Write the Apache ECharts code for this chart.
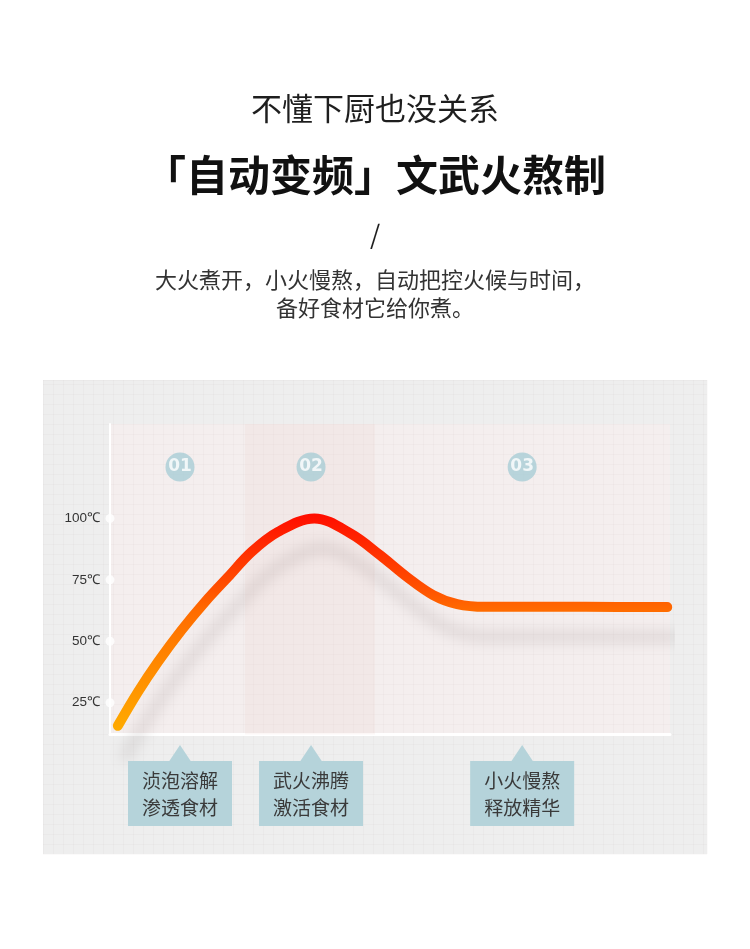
<!DOCTYPE html>
<html><head><meta charset="utf-8">
<script src="https://cdn.jsdelivr.net/npm/echarts@6/dist/echarts.min.js"></script>
<style>html,body{margin:0;padding:0;background:#fff}#c{width:750px;height:949px}</style>
</head><body><div id="c"></div>
<script>
// ---- data ----
const curveX = [1.4, 5.0, 8.6, 12.8, 17.0, 21.1, 25.3, 30.0, 36.5, 43.0, 48.2, 53.0, 57.7, 62.0, 67.0, 75.0, 85.0, 99.5];
const curveY = [15.6, 29.4, 41.7, 54.6, 66.1, 76.2, 86.4, 94.5, 100, 93.8, 85.1, 76.2, 68.8, 65.1, 64.0, 64.0, 64.0, 63.9];
const tickValues = [25, 50, 75, 100];
const stageX = [12.5, 35.9, 73.6];
const stageY = [120.9, 120.9, 120.9];
const stageNums = ['01', '02', '03'];
const stageText = [['浈泡溶解', '渗透食材'], ['武火沸腾', '激活食材'], ['小火慢熬', '释放精华']];
const boilBand = [24.1, 47.3];
const titleLines = ['不懂下厨也没关系', '「自动变频」文武火熬制', '/', '大火煮开，小火慢熬，自动把控火候与时间，', '备好食材它给你煮。'];

const CJK = '"Noto Sans CJK SC", "Noto Sans", sans-serif';
const chart = echarts.init(document.getElementById('c'), null, {renderer: 'canvas'});

const GRID = {left: 110, right: 80, top: 424, bottom: 214.5};

const option = {
  animation: false,
  backgroundColor: '#ffffff',
  grid: [
    Object.assign({show: true, backgroundColor: '#f4eeee', borderWidth: 0}, GRID),
    {left: 43, right: 43, top: 380, bottom: 95}
  ],
  xAxis: [
    {type: 'value', min: 0, max: 100, gridIndex: 0,
     axisLine: {show: true, onZero: false, lineStyle: {color: '#ffffff', width: 3}},
     axisTick: {show: false}, axisLabel: {show: false}, splitLine: {show: false}},
    {type: 'value', min: 0, max: 66.4, interval: 1, gridIndex: 1,
     axisLine: {show: false}, axisTick: {show: false}, axisLabel: {show: false},
     splitLine: {show: true, lineStyle: {color: 'rgba(150,110,110,0.035)', width: 1}}}
  ],
  yAxis: [
    {type: 'value', min: 12.07, max: 138.4, gridIndex: 0,
     axisLine: {show: true, lineStyle: {color: '#ffffff', width: 2}},
     axisTick: {show: false}, splitLine: {show: false},
     axisLabel: {customValues: tickValues, formatter: '{value}℃', color: '#333', fontSize: 13.5,
                 margin: 10, fontFamily: '"Liberation Sans", Arial, sans-serif'}},
    {type: 'value', min: 0, max: 47.4, interval: 1, gridIndex: 1,
     axisLine: {show: false}, axisTick: {show: false}, axisLabel: {show: false},
     splitLine: {show: true, lineStyle: {color: 'rgba(150,110,110,0.035)', width: 1}}}
  ],
  graphic: [],
  series: [
    {type: 'line', xAxisIndex: 1, yAxisIndex: 1, data: [], silent: true},
    {
      type: 'line', xAxisIndex: 0, yAxisIndex: 0, z: 5,
      data: curveX.map((x, i) => [x, curveY[i]]),
      smooth: 0.35, symbol: 'none', clip: false,
      lineStyle: {
        width: 10, cap: 'round', join: 'round',
        color: new echarts.graphic.LinearGradient(0, 0, 0, 1, [
          {offset: 0, color: '#ff0c00'},
          {offset: 0.35, color: '#ff5200'},
          {offset: 0.45, color: '#ff6c00'},
          {offset: 1, color: '#ffab00'}
        ]),
        shadowColor: 'rgba(60,40,40,0.13)', shadowBlur: 14, shadowOffsetX: 8, shadowOffsetY: 30
      },
      markArea: {
        silent: true,
        itemStyle: {color: 'rgba(238,205,200,0.16)'},
        data: [[{xAxis: boilBand[0]}, {xAxis: boilBand[1]}]]
      }
    },
    {
      type: 'scatter', xAxisIndex: 0, yAxisIndex: 0, z: 6, clip: false,
      data: tickValues.map(v => [0, v]), symbolSize: 9,
      itemStyle: {color: '#ffffff'}
    },
    {
      type: 'scatter', xAxisIndex: 0, yAxisIndex: 0, z: 6, clip: false,
      data: stageX.map((x, i) => [x, stageY[i], stageNums[i]]), symbolSize: 29,
      itemStyle: {color: '#a9cdd6'},
      label: {show: true, position: 'inside', formatter: p => p.data[2], color: '#ffffff',
              fontSize: 17, fontWeight: 'bold', fontFamily: '"DejaVu Sans", sans-serif'}
    }
  ]
};
chart.setOption(option);

const g = [];
g.push({type: 'rect', z: -100, shape: {x: 43, y: 380, width: 664, height: 474}, style: {fill: '#eeeeee'}});
const tsz = [31, 42, 26, 22, 22];
const ty = [108, 175, 234, 280, 308];
const tw = ['normal', 'bold', 'normal', 'normal', 'normal'];
const tc = ['#1e1e1e', '#111111', '#1e1e1e', '#333333', '#333333'];
titleLines.forEach((t, i) => {
  g.push({type: 'text', style: {text: t, x: 375, y: ty[i], align: 'center', verticalAlign: 'middle',
    fontSize: tsz[i], fontWeight: tw[i], fontFamily: CJK, fill: tc[i]}});
});
stageX.forEach((x, i) => {
  const px = chart.convertToPixel({xAxisIndex: 0, yAxisIndex: 0}, [x, 50])[0];
  const top = 761, w = 104, h = 65;
  g.push({type: 'rect', z: 10, shape: {x: px - w / 2, y: top, width: w, height: h}, style: {fill: '#b5d3da'}});
  g.push({type: 'polygon', z: 10, shape: {points: [[px - 11, top + 0.5], [px, top - 16], [px + 11, top + 0.5]]}, style: {fill: '#b5d3da'}});
  g.push({type: 'text', z: 11, style: {text: stageText[i].join('\n'), x: px, y: top + h / 2 + 1, align: 'center',
    verticalAlign: 'middle', fontSize: 19, lineHeight: 27, fontFamily: CJK, fill: '#3a3a3a'}});
});
chart.setOption({graphic: g});
</script></body></html>
